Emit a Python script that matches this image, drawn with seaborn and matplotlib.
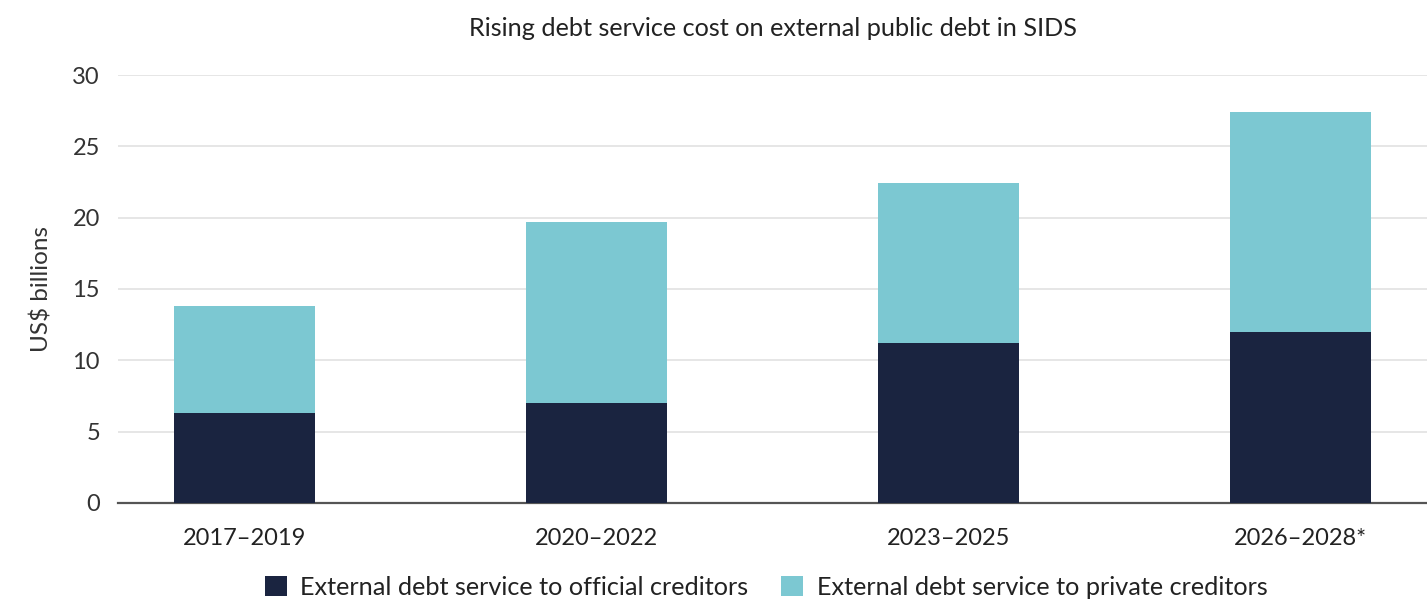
import matplotlib
matplotlib.use("Agg")
import matplotlib.pyplot as plt
import seaborn as sns
import pandas as pd
from matplotlib.patches import Patch

periods = ["2017–2019", "2020–2022", "2023–2025", "2026–2028*"]
official = [6.3, 7.0, 11.2, 12.0]
private = [7.5, 12.7, 11.2, 15.4]
yticks = [0, 5, 10, 15, 20, 25, 30]

series_names = ["External debt service to official creditors",
                "External debt service to private creditors"]
navy = "#1a2440"
teal = "#7cc8d2"

sns.set_theme(style="white")
plt.rcParams["font.family"] = ["Lato", "DejaVu Sans"]

df = pd.DataFrame({"period": periods, "official": official, "private": private})
df["total"] = df["official"] + df["private"]

fig = plt.figure(figsize=(14.27, 6.02), dpi=100)
ax = fig.add_axes([0.0827, 0.1645, 0.9173, 0.7109])

# stacked bars: total drawn first, official share drawn over it
sns.barplot(data=df, x="period", y="total", color=teal, width=0.4,
            saturation=1, linewidth=0, edgecolor="none", ax=ax, zorder=2)
sns.barplot(data=df, x="period", y="official", color=navy, width=0.4,
            saturation=1, linewidth=0, edgecolor="none", ax=ax, zorder=3)

ax.set_ylim(0, 30)
ax.set_xlim(-0.36, 3.36)
ax.set_yticks(yticks)
ax.set_yticklabels([str(t) for t in yticks])
ax.yaxis.grid(True, color="#e4e4e4", linewidth=1.3, zorder=0)
ax.set_axisbelow(True)
for side in ["top", "right", "left"]:
    ax.spines[side].set_visible(False)
ax.spines["bottom"].set_color("#555555")
ax.spines["bottom"].set_linewidth(1.6)
ax.tick_params(axis="y", length=0, pad=13, labelsize=17, labelcolor="#333333")
ax.tick_params(axis="x", length=0, pad=18, labelsize=17, labelcolor="#222222")
ax.set_xlabel("")
ax.set_ylabel("US$ billions", fontsize=17.5, color="#333333", labelpad=14)

fig.text(0.5 * (0.0827 + 1.0), 0.953,
         "Rising debt service cost on external public debt in SIDS",
         ha="center", va="center", fontsize=18.2, color="#222222")

handles = [Patch(facecolor=navy, edgecolor="none"),
           Patch(facecolor=teal, edgecolor="none")]
fig.legend(handles, series_names, loc="center",
           bbox_to_anchor=(0.537, 0.024), ncol=2, frameon=False,
           fontsize=18.2, handlelength=0.85, handleheight=0.85, handletextpad=0.55,
           columnspacing=1.3, labelcolor="#222222")

fig.savefig("out.png", dpi=100, facecolor="white")
